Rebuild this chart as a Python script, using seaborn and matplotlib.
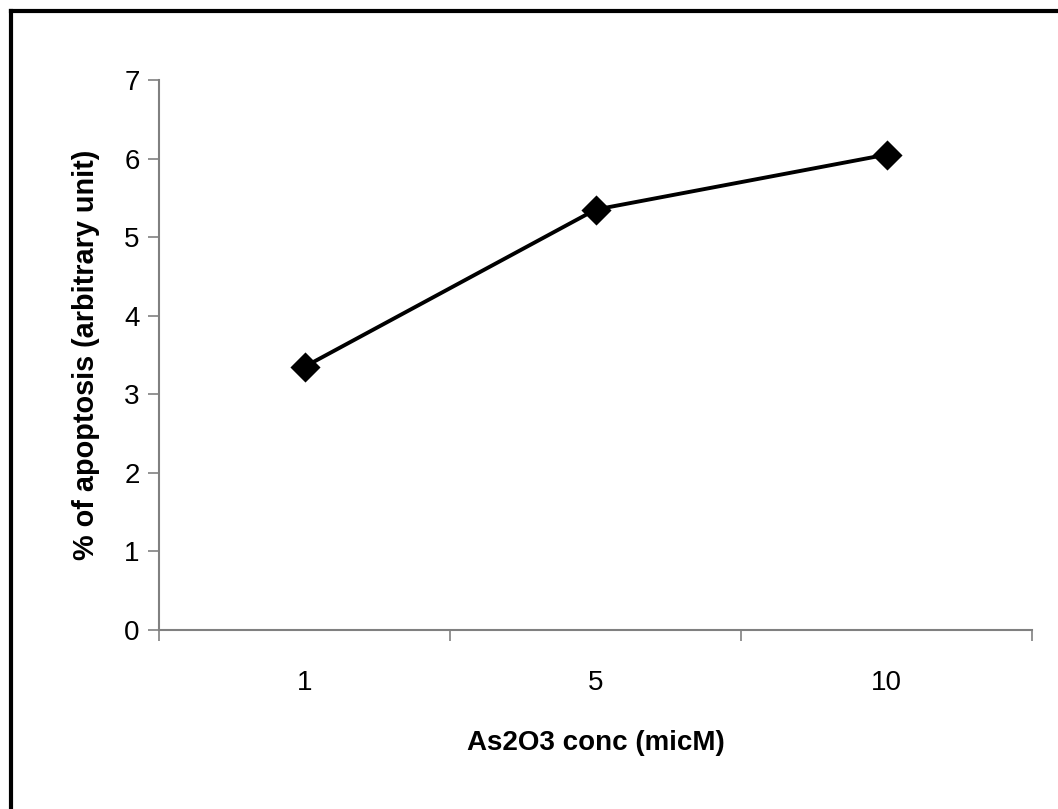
import matplotlib
matplotlib.use("Agg")
import matplotlib.pyplot as plt
from matplotlib.lines import Line2D
from matplotlib.ticker import FixedLocator
import seaborn as sns
import pandas as pd

# Data
conc_labels = ["1", "5", "10"]
apoptosis = [3.35, 5.35, 6.05]
y_ticks = [0, 1, 2, 3, 4, 5, 6, 7]

sns.set_style("white")
plt.rcParams["font.family"] = ["Liberation Sans", "DejaVu Sans"]
plt.rcParams["text.color"] = "black"
plt.rcParams["axes.labelcolor"] = "black"
plt.rcParams["xtick.color"] = "black"
plt.rcParams["ytick.color"] = "black"

df = pd.DataFrame({"conc": conc_labels, "apoptosis": apoptosis})

fig = plt.figure(figsize=(10.58, 8.09), dpi=100)
ax = fig.add_axes([159 / 1058, 1 - 630 / 809, (1032 - 159) / 1058, (630 - 80) / 809])

sns.pointplot(data=df, x="conc", y="apoptosis", order=conc_labels,
              color="black", markers="D", linestyles="-", errorbar=None,
              markersize=13, linewidth=2.8, ax=ax)

ax.set_xlim(-0.5, len(conc_labels) - 0.5)
ax.set_ylim(0, 7)
ax.set_yticks(y_ticks)
ax.set_yticklabels([str(t) for t in y_ticks], fontsize=20, color="black")
ax.set_xticks(range(len(conc_labels)))
ax.set_xticklabels(conc_labels, fontsize=20, color="black")
ax.xaxis.set_minor_locator(FixedLocator([i - 0.5 for i in range(len(conc_labels) + 1)]))
ax.tick_params(axis="x", which="major", bottom=True, length=0, pad=29)
ax.tick_params(axis="x", which="minor", bottom=True, length=8, width=1.2,
               color="#808080", direction="out")
ax.tick_params(axis="y", which="major", left=True, length=8, width=1.2,
               color="#808080", labelcolor="black", direction="out", pad=6)

for s in ["top", "right"]:
    ax.spines[s].set_visible(False)
for s in ["left", "bottom"]:
    ax.spines[s].set_color("#808080")
    ax.spines[s].set_linewidth(1.5)

ax.set_xlabel("As2O3 conc (micM)", fontsize=20, fontweight="bold", labelpad=24, color="black")
ax.set_ylabel("% of apoptosis (arbitrary unit)", fontsize=20.8, fontweight="bold",
              labelpad=17, color="black")
ax.grid(False)

# Outer chart frame (only left and top edges visible)
fig.add_artist(Line2D([11 / 1058, 11 / 1058], [0, 1 - 11 / 809], transform=fig.transFigure,
                      color="black", linewidth=3, solid_capstyle="projecting"))
fig.add_artist(Line2D([11 / 1058, 1], [1 - 11 / 809, 1 - 11 / 809], transform=fig.transFigure,
                      color="black", linewidth=3, solid_capstyle="projecting"))

fig.savefig("out.png", dpi=100)
